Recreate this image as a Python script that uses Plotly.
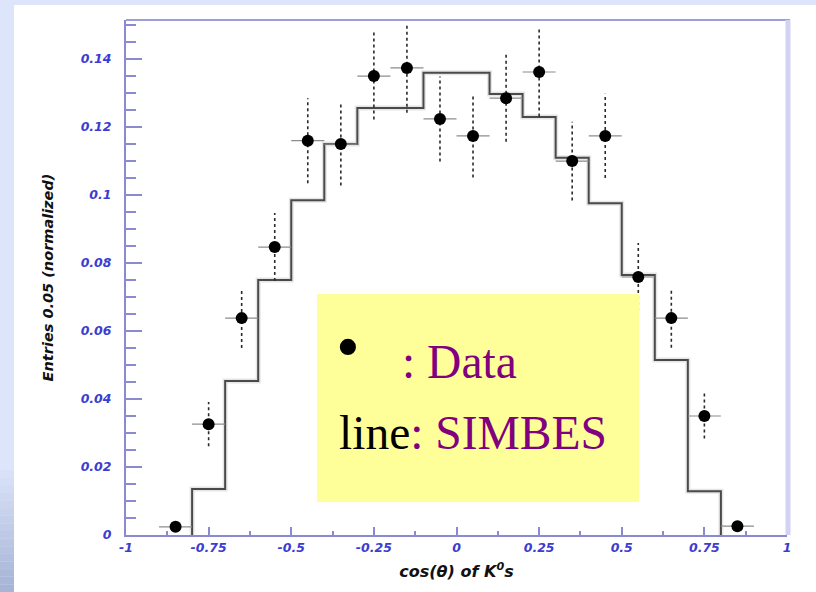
import plotly.graph_objects as go

# ---- data -------------------------------------------------------------
# SIMBES histogram: bin contents for 20 bins of width 0.1 on [-1, 1]
bin_edges = [round(-1.0 + 0.1 * i, 2) for i in range(21)]
simbes = [0.0, 0.0, 0.0135, 0.0453, 0.075, 0.0985, 0.115, 0.1256, 0.1256, 0.136,
          0.136, 0.1297, 0.123, 0.111, 0.0976, 0.0765, 0.0515, 0.0129, 0.0, 0.0]

# measured points (bin centres), values and statistical errors
data_x = [-0.85, -0.75, -0.65, -0.55, -0.45, -0.35, -0.25, -0.15, -0.05,
          0.05, 0.15, 0.25, 0.35, 0.45, 0.55, 0.65, 0.75, 0.85]
data_y = [0.0024, 0.0326, 0.0638, 0.0847, 0.116, 0.115, 0.135, 0.1374, 0.1224,
          0.1174, 0.1285, 0.1362, 0.110, 0.1174, 0.0759, 0.0638, 0.035, 0.0026]
data_err = [0.0015, 0.0065, 0.0088, 0.0100, 0.0125, 0.0122, 0.0128, 0.0132, 0.0125,
            0.0122, 0.0128, 0.0131, 0.0116, 0.0124, 0.0100, 0.0087, 0.0066, 0.0015]
half_bin = 0.05

x_ticks = [-1, -0.75, -0.5, -0.25, 0, 0.25, 0.5, 0.75, 1]
x_tick_text = ["-1", "-0.75", "-0.5", "-0.25", "0", "0.25", "0.5", "0.75", "1"]
y_ticks = [0, 0.02, 0.04, 0.06, 0.08, 0.1, 0.12, 0.14]
y_tick_text = ["0", "0.02", "0.04", "0.06", "0.08", "0.1", "0.12", "0.14"]

# ---- page geometry ----------------------------------------------------
W, H = 816, 592
L, R, T, B = 126, 787, 20, 535          # plot area in pixels
PW, PH = R - L, B - T


def px(x):
    return (x - L) / PW


def py(y):
    return (B - y) / PH


AXIS = "#8a8ad2"
TICKFONT = dict(family="DejaVu Sans", size=12.5, color="#3c3cd0",
                weight="bold", style="italic")
TITLEFONT = dict(family="DejaVu Sans", color="#111", weight="bold", style="italic")

fig = go.Figure()

# histogram outline, only across the filled bins
first = next(i for i, v in enumerate(simbes) if v > 0)
last = max(i for i, v in enumerate(simbes) if v > 0)
hx = [bin_edges[first]] + bin_edges[first:last + 2]
hy = [0.0] + simbes[first:last + 1] + [0.0]
for w, c in [(5, "rgba(0,0,0,0.10)"), (2, "#4a4a4a")]:
    fig.add_trace(go.Scatter(x=hx, y=hy, mode="lines", line_shape="hv",
                             line=dict(color=c, width=w),
                             hoverinfo="skip", showlegend=False))

# dotted vertical error bars
ex, ey = [], []
for x, y, e in zip(data_x, data_y, data_err):
    ex += [x, x, None]
    ey += [y - e, y + e, None]
fig.add_trace(go.Scatter(x=ex, y=ey, mode="lines",
                         line=dict(color="#2a2a2a", width=1.6, dash="dot"),
                         hoverinfo="skip", showlegend=False))

# data points with horizontal bin-width bars
fig.add_trace(go.Scatter(
    x=data_x, y=data_y, mode="markers",
    marker=dict(color="black", size=12),
    error_x=dict(type="constant", value=half_bin, color="#8c8c8c",
                 thickness=1.2, width=0),
    showlegend=False))

shapes = []
# white page over the light-blue slide background
shapes.append(dict(type="rect", xref="paper", yref="paper", layer="below",
                   x0=px(14), x1=px(W), y0=py(H), y1=py(5),
                   fillcolor="white", line_width=0))
# darker shading at the bottom of the left strip
steps = 16
for i in range(steps):
    t = (i + 1) / steps
    r = int(0xdc - (0xdc - 0xa6) * t)
    g = int(0xe5 - (0xe5 - 0xb4) * t)
    b = int(0xfa - (0xfa - 0xd6) * t)
    shapes.append(dict(type="rect", xref="paper", yref="paper", layer="below",
                       x0=px(0), x1=px(14),
                       y0=py(470 + 122 * (i + 1) / steps),
                       y1=py(470 + 122 * i / steps),
                       fillcolor=f"rgb({r},{g},{b})", line_width=0))
# top and right frame lines
shapes.append(dict(type="line", xref="paper", yref="paper",
                   x0=0, x1=px(790), y0=1, y1=1,
                   line=dict(color="#9e9ed6", width=2)))
shapes.append(dict(type="line", xref="paper", yref="paper",
                   x0=px(788), x1=px(788), y0=0, y1=1,
                   line=dict(color="#d2d2f2", width=5)))
# legend panel
shapes.append(dict(type="rect", xref="paper", yref="paper", layer="above",
                   x0=px(317), x1=px(639), y0=py(502), y1=py(294),
                   fillcolor="#ffff99", line_width=0))

SERIF = "Liberation Serif"
PURPLE = "#800080"
annotations = [
    dict(x=px(348), y=py(346), xref="paper", yref="paper", text="•",
         showarrow=False, xanchor="center", yanchor="middle",
         font=dict(family=SERIF, size=68, color="black")),
    dict(x=px(400), y=py(362), xref="paper", yref="paper", text=": Data",
         showarrow=False, xanchor="left", yanchor="middle",
         font=dict(family=SERIF, size=47.5, color=PURPLE)),
    dict(x=px(337), y=py(433), xref="paper", yref="paper",
         text=f"line<span style='color:{PURPLE}'>: SIMBES</span>",
         showarrow=False, xanchor="left", yanchor="middle",
         font=dict(family=SERIF, size=47.5, color="black")),
]

fig.update_layout(
    width=W, height=H,
    margin=dict(l=L, r=W - R, t=T, b=H - B),
    paper_bgcolor="#dce5fa",
    plot_bgcolor="rgba(0,0,0,0)",
    shapes=shapes,
    annotations=annotations,
    showlegend=False,
)

fig.update_xaxes(
    range=[-1, 1], tickvals=x_ticks, ticktext=x_tick_text,
    ticks="inside", ticklen=8, tickwidth=1.5, tickcolor=AXIS,
    minor=dict(dtick=0.125, tick0=0, ticks="inside", ticklen=4,
               tickcolor=AXIS, showgrid=False),
    showline=True, linecolor=AXIS, linewidth=2,
    showgrid=False, zeroline=False, tickfont=TICKFONT,
    title=dict(text="cos(θ) of K<sup>0</sup>s", standoff=12,
               font=dict(TITLEFONT, size=16)),
)
fig.update_yaxes(
    range=[0, 0.1515], tickvals=y_ticks, ticktext=y_tick_text,
    ticks="inside", ticklen=16, tickwidth=1.5, tickcolor=AXIS,
    minor=dict(dtick=0.005, tick0=0, ticks="inside", ticklen=10,
               tickcolor=AXIS, showgrid=False),
    showline=True, linecolor=AXIS, linewidth=2,
    showgrid=False, zeroline=False, tickfont=TICKFONT,
    ticklabelstandoff=10,
    title=dict(text="Entries 0.05 (normalized)", standoff=24,
               font=dict(TITLEFONT, size=14.5)),
)

fig.write_html("out.html")
